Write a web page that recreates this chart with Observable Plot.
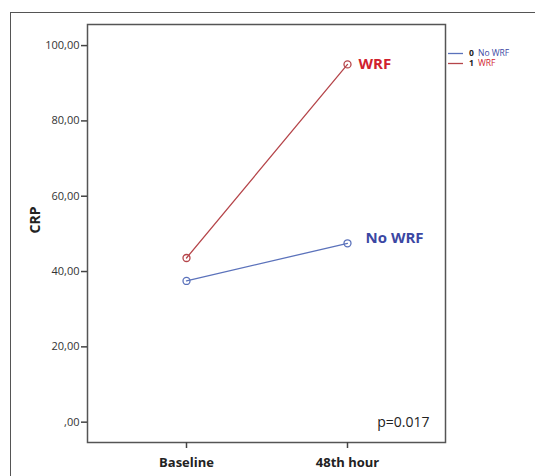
<!DOCTYPE html>
<html><head><meta charset="utf-8">
<script src="https://cdn.jsdelivr.net/npm/d3@7"></script>
<script src="https://cdn.jsdelivr.net/npm/@observablehq/plot@0.6"></script>
<style>
html,body{margin:0;padding:0;background:#fff;overflow:hidden;}
#wrap{position:relative;width:535px;height:476px;overflow:hidden;font-family:"Open Sans",sans-serif;}
#border{position:absolute;left:10px;top:12px;width:600px;height:520px;border:1.5px solid #555;box-sizing:border-box;}
</style></head>
<body><div id="wrap"><div id="border"></div></div>
<script>
const times = ["Baseline", "48th hour"];
const groupCodes = [0, 1];
const groupNames = ["No WRF", "WRF"];
const noWrfValues = [37.5, 47.5];
const wrfValues = [43.6, 95.0];
const pText = "p=0.017";
const yTicks = [0, 20, 40, 60, 80, 100];

const lineColors = {"No WRF": "#5b72bb", "WRF": "#b5454a"};
const labelColors = {"No WRF": "#3b47a3", "WRF": "#d0212e"};

const data = [];
times.forEach((t, i) => {
  data.push({time: t, group: "No WRF", value: noWrfValues[i]});
  data.push({time: t, group: "WRF", value: wrfValues[i]});
});
const last = times[times.length - 1];
const endWrf = data.filter(d => d.time === last && d.group === "WRF");
const endNo = data.filter(d => d.time === last && d.group === "No WRF");

const fmt = d => d === 0 ? ",00" : d.toFixed(2).replace(".", ",");

const chart = Plot.plot({
  width: 535, height: 476,
  marginLeft: 87, marginRight: 90, marginTop: 24, marginBottom: 34,
  style: {fontFamily: "'Open Sans', sans-serif", background: "transparent", overflow: "visible"},
  x: {type: "point", domain: times, padding: 0.605, label: null},
  y: {domain: [-5.4, 105.6], label: null},
  marks: [
    Plot.frame({stroke: "#555", strokeWidth: 1.5}),
    Plot.axisY({ticks: yTicks, tickFormat: fmt, tickSize: 6, tickPadding: 2, fontSize: 11, stroke: "#444", strokeWidth: 1.5, fill: "#333", label: null}),
    Plot.axisX({tickSize: 6, tickPadding: 9, fontSize: 13, fontWeight: "bold", stroke: "#444", strokeWidth: 1.5, fill: "#222", label: null}),
    Plot.lineY(data, {x: "time", y: "value", z: "group", stroke: d => lineColors[d.group], strokeWidth: 1.3}),
    Plot.dot(data, {x: "time", y: "value", r: 3.5, stroke: d => lineColors[d.group], strokeWidth: 1.3, fill: "none"}),
    Plot.text(endWrf, {x: "time", y: "value", text: "group", textAnchor: "start", dx: 11, dy: 0, fill: labelColors["WRF"], fontSize: 15, fontWeight: "bold"}),
    Plot.text(endNo, {x: "time", y: "value", text: "group", textAnchor: "start", dx: 18, dy: -5, fill: labelColors["No WRF"], fontSize: 15, fontWeight: "bold"}),
    Plot.text([pText], {frameAnchor: "bottom-right", dx: -16, dy: -16, text: d => d, fontSize: 14, fill: "#222"}),
    Plot.text(["CRP"], {frameAnchor: "left", dx: -52, rotate: -90, text: d => d, fontSize: 14, fontWeight: "bold", fill: "#222"})
  ]
});
chart.style.position = "absolute";
chart.style.left = "0px";
chart.style.top = "0px";
document.getElementById("wrap").appendChild(chart);

// legend drawn into the chart's svg
const svg = d3.select(chart);
const lg = svg.append("g").attr("transform", "translate(448,53.5)")
  .attr("text-anchor", "start")
  .attr("font-family", "'Open Sans', sans-serif").attr("font-size", 8.5);
groupCodes.forEach((c, i) => {
  const g = groupNames[i];
  const row = lg.append("g").attr("transform", `translate(0,${i * 10})`);
  row.append("line").attr("x1", 0).attr("x2", 15).attr("y1", 0).attr("y2", 0)
    .attr("stroke", lineColors[g]).attr("stroke-width", 1.3);
  row.append("text").attr("x", 21).attr("y", 0).attr("dy", "0.35em")
    .attr("font-weight", "bold").attr("fill", "#222").text(c);
  row.append("text").attr("x", 30).attr("y", 0).attr("dy", "0.35em")
    .attr("fill", labelColors[g]).text(g);
});
</script></body></html>
